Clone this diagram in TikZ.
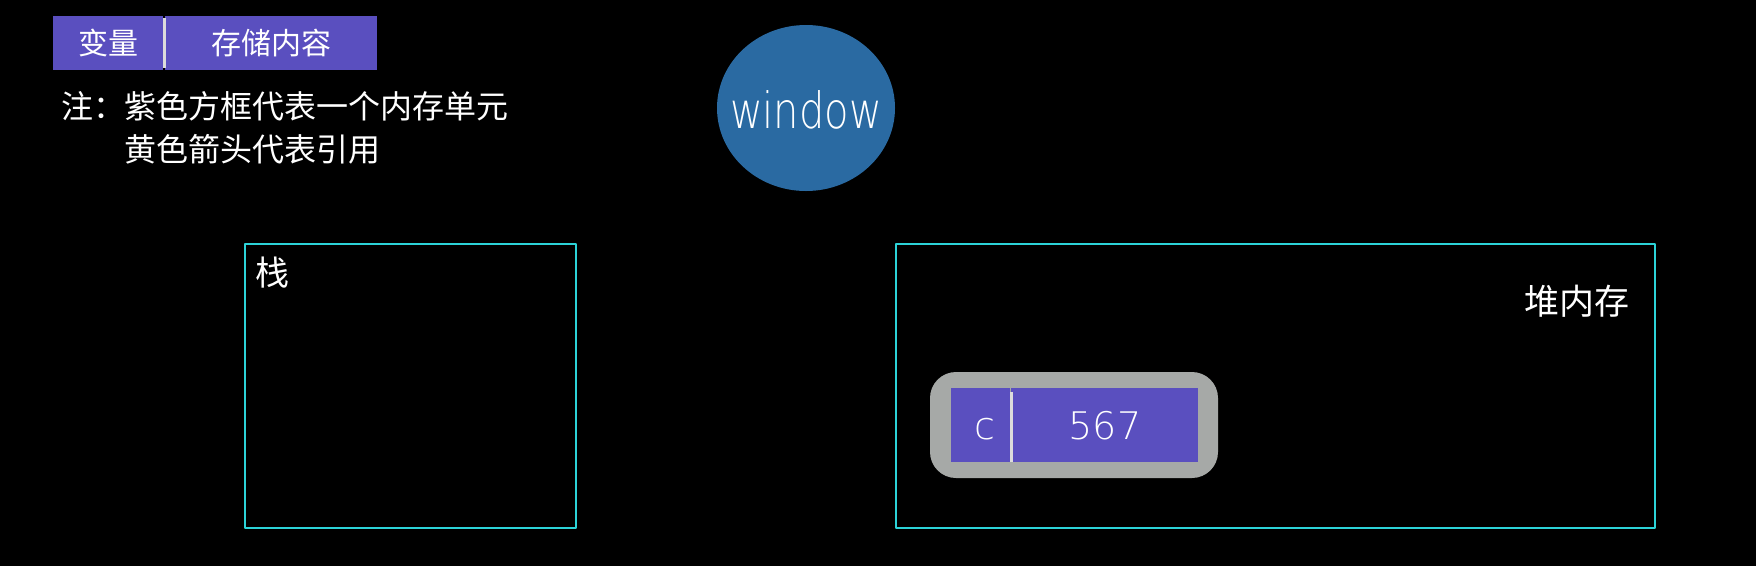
\documentclass[tikz,border=0pt]{standalone}
\usepackage{fontspec}
\usetikzlibrary{shapes.geometric}
\newfontfamily\cjk{Noto Sans CJK SC}
\newfontfamily\thinfont{DejaVu Sans ExtraLight}
\definecolor{cellpurple}{HTML}{5A4FBF}
\definecolor{framecyan}{HTML}{2CD3D8}
\definecolor{unitgray}{HTML}{A6A9A7}
\definecolor{windowblue}{HTML}{2A6AA2}
\definecolor{divgray}{HTML}{DCDCDC}

\begin{document}
\begin{tikzpicture}[line cap=round,line join=round,x=1pt,y=-1pt,
	cellbox/.style={fill=cellpurple,text=white,inner sep=0pt,minimum height=54pt},
	divider/.style={divgray,line width=3pt,line cap=butt},
	memframe/.style={framecyan,line width=2pt},
	cjktext/.style={text=white,inner sep=0pt,font=\cjk\fontsize{#1}{#1}\selectfont}]
	\fill[black] (0,0) rectangle (1756,566);
	\useasboundingbox (0,0) rectangle (1756,566);
	% legend
	\node[cellbox,minimum width=110pt,font=\cjk\fontsize{30}{30}\selectfont] (legvar) at (108,43) {变量};
	\node[cellbox,minimum width=212pt,font=\cjk\fontsize{30}{30}\selectfont] (legval) at (271,43) {存储内容};
	\draw[divider] ([xshift=1.5pt,yshift=-2pt]legvar.north east) -- ([xshift=1.5pt,yshift=2pt]legvar.south east);
	% notes
	\node[cjktext=32pt,anchor=west] (notehead) at (61,106) {注：};
	\node[cjktext=32pt,anchor=west] (noteone) at (124,106) {紫色方框代表一个内存单元};
	\node[cjktext=32pt,anchor=west] (notetwo) at (124,149.5) {黄色箭头代表引用};
	% window
	\node[ellipse,fill=windowblue,minimum width=178pt,minimum height=166pt,inner sep=0pt] (win) at (806,108) {};
	\node[anchor=base,inner sep=0pt,text=white,xscale=0.8,
		font=\thinfont\fontsize{50}{50}\selectfont] (wintext) at (806,128) {window};
	% stack and heap
	\draw[memframe] (245,244) rectangle (576,528);
	\draw[memframe] (896,244) rectangle (1655,528);
	\node[cjktext=34pt] (stacklabel) at (272,273) {栈};
	\node[cjktext=35pt] (heaplabel) at (1577,301) {堆内存};
	% memory unit c
	\node[fill=unitgray,rounded corners=26pt,minimum width=288pt,minimum height=106pt] (unitc) at (1074,425) {};
	\node[cellbox,minimum width=59pt,minimum height=74pt] (cvar) at (980.5,425) {};
	\node[cellbox,minimum width=187pt,minimum height=74pt] (cval) at (1104.5,425) {};
	\node[anchor=base,inner sep=0pt,text=white,font=\thinfont\fontsize{38}{38}\selectfont] (cvarname) at (985,439) {c};
	\node[anchor=base,inner sep=0pt,text=white,font=\thinfont\fontsize{38}{38}\selectfont] (cvalue) at (1105,439) {567};
	\draw[divider] ([xshift=1.5pt,yshift=-4pt]cvar.north east) -- ([xshift=1.5pt]cvar.south east);
\end{tikzpicture}
\end{document}
